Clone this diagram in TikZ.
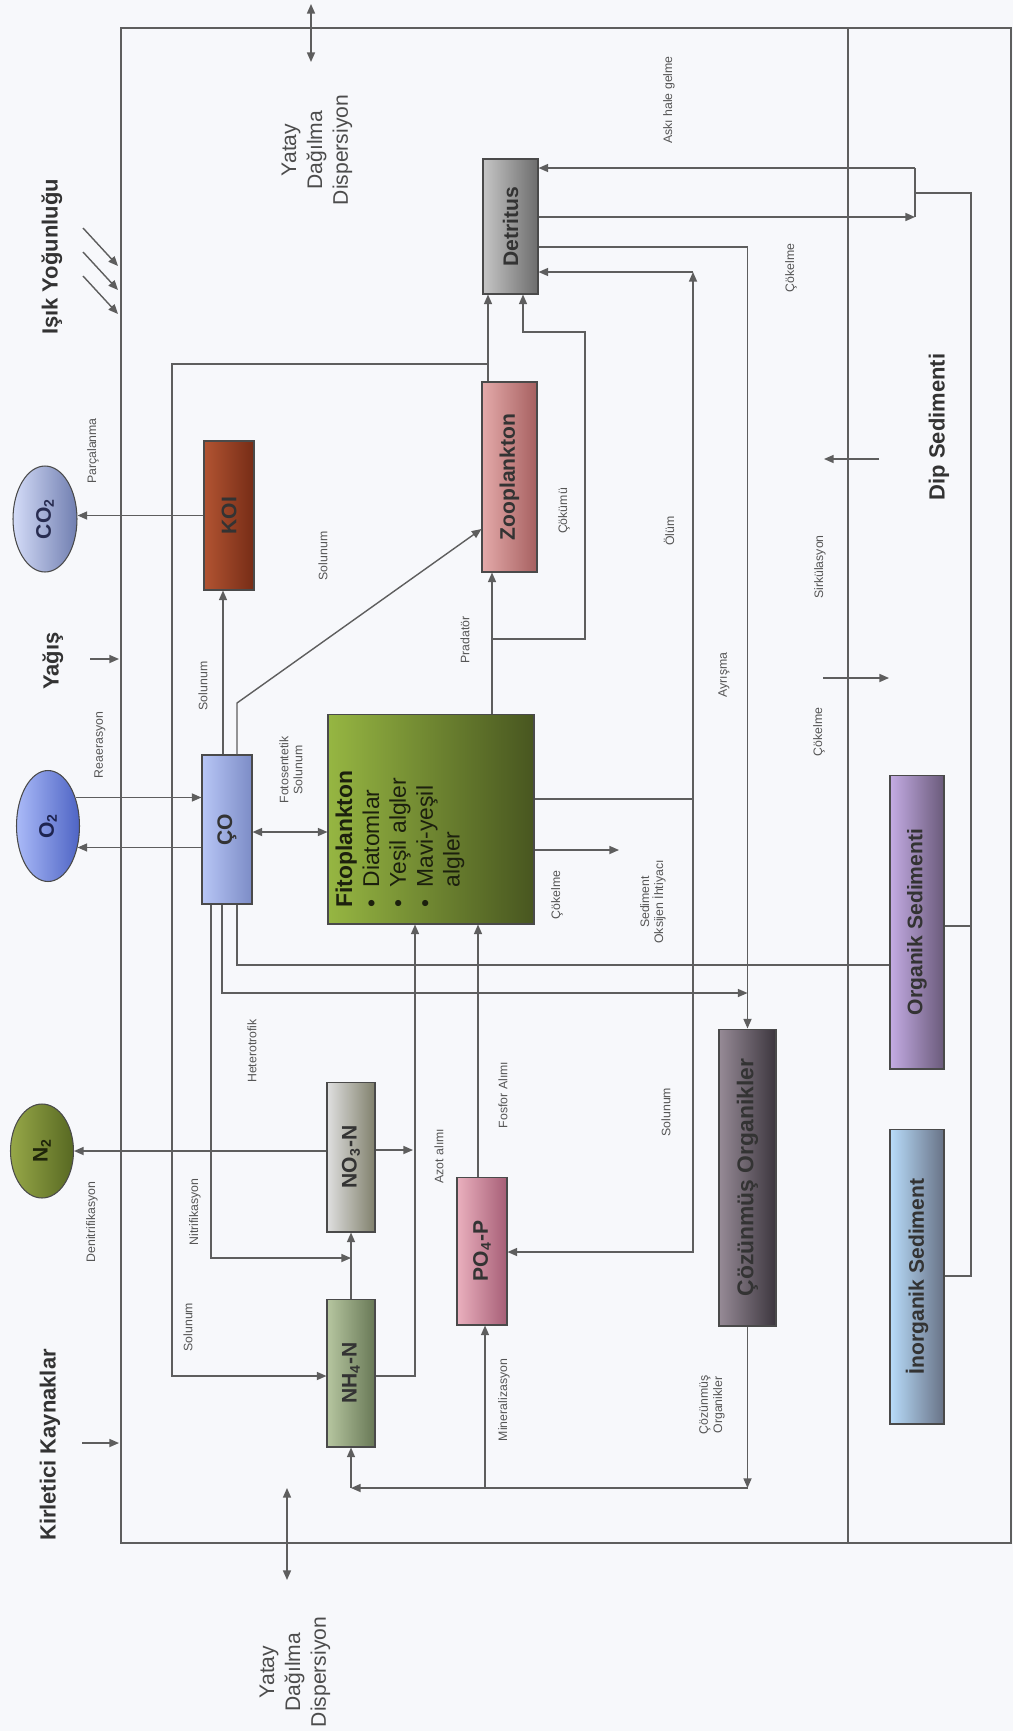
\documentclass[tikz,border=0pt]{standalone}
\usepackage{fontspec}
\setmainfont{Liberation Sans}
\usetikzlibrary{arrows.meta,shapes.geometric}
\definecolor{lncol}{HTML}{5E5E5E}
\definecolor{edgecol}{HTML}{4A4A4A}
\definecolor{labcol}{HTML}{555555}
\definecolor{paper}{HTML}{F7F8FB}
\begin{document}
\begin{tikzpicture}[x=0.02cm,y=-0.02cm,
  ln/.style={draw=lncol, line width=0.8pt},
  arr/.style={ln, -{Triangle[length=5.5pt,width=4.6pt]}},
  darr/.style={ln, {Triangle[length=5.5pt,width=4.6pt]}-{Triangle[length=5.5pt,width=4.6pt]}},
  lbl/.style={rotate=90, font=\fontsize{7}{8}\selectfont, text=labcol, align=center, inner sep=1pt},
  big/.style={rotate=90, font=\fontsize{12.5}{15}\selectfont\bfseries, text=black!80, inner sep=1pt},
  yat/.style={rotate=90, align=center, font=\fontsize{12}{14.7}\selectfont, text=black!70, inner sep=1pt},
  bx/.style={draw=edgecol, line width=0.6pt, inner sep=0pt, text=black!80, font=\fontsize{12}{14}\selectfont\bfseries},
]
\useasboundingbox (0,0) rectangle (1013,1731);
\fill[paper] (0,0) rectangle (1013,1731);

% frame
\draw[ln, line width=0.9pt] (121,28) rectangle (1011,1543);
\draw[ln, line width=0.9pt] (848,28) -- (848,1543);

% boxes
\node[bx, minimum width=1.1cm, minimum height=2.7cm, left color=gray!45, right color=gray!85!black] (DET) at (510.5,226.5) {\rotatebox{90}{Detritus}};
\node[bx, minimum width=1.0cm, minimum height=2.98cm, left color={rgb,255:red,178;green,84;blue,50}, right color={rgb,255:red,118;green,44;blue,22}] (KOI) at (229,515.5) {\rotatebox{90}{KOI}};
\node[bx, minimum width=1.1cm, minimum height=3.8cm, left color={rgb,255:red,228;green,170;blue,170}, right color={rgb,255:red,166;green,96;blue,96}] (ZOO) at (509.5,477) {\rotatebox{90}{Zooplankton}};
\node[bx, minimum width=1.0cm, minimum height=2.98cm, left color={rgb,255:red,184;green,198;blue,246}, right color={rgb,255:red,124;green,140;blue,198}] (CO) at (227,829.5) {\rotatebox{90}{ÇO}};
\node[bx, minimum width=4.12cm, minimum height=4.2cm, left color={rgb,255:red,150;green,182;blue,66}, right color={rgb,255:red,72;green,86;blue,32}] (FITO) at (431,819) {};
\node[anchor=south west, inner sep=0pt, text={rgb,255:red,28;green,32;blue,14}] (FT) at (333,908)
  {\rotatebox{90}{\fontsize{13}{15.3}\selectfont\begin{tabular}{@{}l@{\hspace{7pt}}l@{}}
  \multicolumn{2}{@{}l}{\textbf{Fitoplankton}}\\
  \textbullet & Diatomlar\\
  \textbullet & Yeşil algler\\
  \textbullet & Mavi-yeşil\\
   & algler
  \end{tabular}}};
\node[bx, minimum width=0.96cm, minimum height=3.0cm, left color=gray!25, right color={rgb,255:red,128;green,128;blue,108}] (NO3) at (351,1157) {\rotatebox{90}{NO\textsubscript{3}-N}};
\node[bx, minimum width=0.96cm, minimum height=2.96cm, left color={rgb,255:red,182;green,198;blue,160}, right color={rgb,255:red,104;green,120;blue,86}] (NH4) at (351,1373) {\rotatebox{90}{NH\textsubscript{4}-N}};
\node[bx, minimum width=1.0cm, minimum height=2.96cm, left color={rgb,255:red,234;green,176;blue,190}, right color={rgb,255:red,166;green,94;blue,118}] (PO4) at (482,1251) {\rotatebox{90}{PO\textsubscript{4}-P}};
\node[bx, minimum width=1.14cm, minimum height=5.94cm, left color={rgb,255:red,150;green,138;blue,150}, right color={rgb,255:red,60;green,54;blue,62}, font=\fontsize{13}{15}\selectfont\bfseries] (COZ) at (747.5,1177.5) {\rotatebox{90}{Çözünmüş Organikler}};
\node[bx, minimum width=1.08cm, minimum height=5.88cm, left color={rgb,255:red,196;green,172;blue,228}, right color={rgb,255:red,106;green,90;blue,122}] (ORG) at (917,922) {\rotatebox{90}{Organik Sedimenti}};
\node[bx, minimum width=1.08cm, minimum height=5.9cm, left color={rgb,255:red,184;green,220;blue,250}, right color={rgb,255:red,104;green,114;blue,134}] (INO) at (917,1276.5) {\rotatebox{90}{İnorganik Sediment}};

% ellipses
\node[bx, ellipse, minimum width=1.28cm, minimum height=2.12cm, left color={rgb,255:red,212;green,220;blue,248}, right color={rgb,255:red,112;green,126;blue,176}, text={rgb,255:red,40;green,44;blue,80}] (CO2) at (45,519) {\rotatebox{90}{CO\textsubscript{2}}};
\node[bx, ellipse, minimum width=1.26cm, minimum height=2.22cm, left color={rgb,255:red,170;green,186;blue,248}, right color={rgb,255:red,78;green,100;blue,196}, text={rgb,255:red,30;green,36;blue,80}] (O2) at (48,826) {\rotatebox{90}{O\textsubscript{2}}};
\node[bx, ellipse, minimum width=1.26cm, minimum height=1.88cm, left color={rgb,255:red,150;green,168;blue,72}, right color={rgb,255:red,88;green,104;blue,34}, text={rgb,255:red,30;green,36;blue,10}] (N2) at (42,1151) {\rotatebox{90}{N\textsubscript{2}}};

% outside arrows
\coordinate (L1) at (83,228); \coordinate (L2) at (83,252); \coordinate (L3) at (83,276);
\draw[arr] (L1) -- (118,266);
\draw[arr] (L2) -- (118,290);
\draw[arr] (L3) -- (118,314);
\coordinate (YG) at (90,659);
\draw[arr] (YG) -- (119,659);
\coordinate (KK) at (82,1443);
\draw[arr] (KK) -- (119,1443);
\draw[darr] (311,4) -- (311,62);
\draw[darr] (287,1488) -- (287,1580);

% KOI -> CO2, CO -> KOI, CO -> ZOO
\draw[arr] (KOI.west) -- (KOI.west -| CO2.east);
\draw[arr] (CO.north -| 223,0) -- (KOI.south -| 223,0);
\draw[arr] (CO.north -| 237,0) -- (237,703) -- (ZOO.west |- 0,529);
% O2 <-> CO
\draw[arr] (O2.46) -- (O2.46 -| CO.west);
\draw[arr] (O2.-36 -| CO.west) -- (O2.-36);
% CO <-> FITO
\draw[darr] (CO.east |- 0,832) -- (FITO.west |- 0,832);
% FITO -> ZOO, branch -> DET
\draw[arr] (FITO.north -| 492,0) -- (ZOO.south -| 492,0);
\draw[arr] (492,639) -- (585,639) -- (585,332) -- (523,332) -- (DET.south -| 523,0);
% ZOO -> DET, branch -> NH4
\draw[arr] (ZOO.north -| 488,0) -- (DET.south -| 488,0);
\draw[arr] (488,364) -- (172,364) -- (172,1376) -- (NH4.west |- 0,1376);
% DET -> COZ
\draw[arr] (DET.east |- 0,247) -- (COZ.north |- 0,247) -- (COZ.north);
% FITO -> DET (olum), -> PO4
\draw[ln] (FITO.east |- 0,799) -- (693,799);
\draw[arr] (693,799) -- (693,272);
\draw[arr] (693,272) -- (DET.east |- 0,272);
\draw[arr] (693,799) -- (693,1252) -- (PO4.east |- 0,1252);
% FITO cokelme
\draw[arr] (FITO.east |- 0,850) -- (619,850);
% CO bottom lines
\draw[ln] (CO.south -| 237,0) -- (237,965) -- (ORG.west |- 0,965);
\draw[arr] (CO.south -| 222,0) -- (222,993) -- (COZ.north |- 0,993);
\draw[arr] (CO.south -| 211,0) -- (211,1258) -- (NH4.north |- 0,1258);
% N cycle
\draw[arr] (NH4.north) -- (NO3.south);
\draw[arr] (N2.east -| NO3.west) -- (N2.east);
\draw[arr] (NO3.east |- 0,1150) -- (413,1150);
\draw[arr] (NH4.east |- 0,1376) -- (415,1376) -- (FITO.south -| 415,0);
\draw[arr] (PO4.north -| 478,0) -- (FITO.south -| 478,0);
% COZ mineralization
\draw[arr] (COZ.south) -- (COZ.south |- 0,1488);
\draw[arr] (COZ.south |- 0,1488) -- (NH4.south |- 0,1488);
\draw[arr] (NH4.south |- 0,1488) -- (NH4.south);
\draw[arr] (485,1488) -- (PO4.south -| 485,0);
% sediment lines
\draw[ln] (ORG.east |- 0,926) -- (971,926);
\draw[ln] (INO.east |- 0,1276) -- (971,1276) -- (971,193) -- (915,193);
\draw[ln] (915,168) -- (915,217);
\draw[arr] (915,168) -- (DET.east |- 0,168);
\draw[arr] (DET.east |- 0,217) -- (915,217);
\draw[arr] (823,678) -- (889,678);
\draw[arr] (879,459) -- (824,459);

% big labels
\node[big] (tIsik) at (52,257) {Işık Yoğunluğu};
\node[big] (tYag) at (53,661) {Yağış};
\node[big] (tKir) at (50,1445) {Kirletici Kaynaklar};
\node[big] (tDip) at (939,427) {Dip Sedimenti};
\node[yat] (tYat1) at (317,150) {Yatay\\Dağılma\\Dispersiyon};
\node[yat] (tYat2) at (295,1672) {Yatay\\Dağılma\\Dispersiyon};

% small labels
\node[lbl] (s1) at (93,451) {Parçalanma};
\node[lbl] (s2) at (100,745) {Reaerasyon};
\node[lbl] (s3) at (203,686) {Solunum};
\node[lbl] (s4) at (323,556) {Solunum};
\node[lbl] (s5) at (291,770) {Fotosentetik\\Solunum};
\node[lbl] (s6) at (465,640) {Pradatör};
\node[lbl] (s7) at (564,511) {Çökümü};
\node[lbl] (s8) at (669,531) {Ölüm};
\node[lbl] (s9) at (669,100) {Askı hale gelme};
\node[lbl] (s10) at (791,268) {Çökelme};
\node[lbl] (s11) at (820,567) {Sirkülasyon};
\node[lbl] (s12) at (819,732) {Çökelme};
\node[lbl] (s13) at (724,675) {Ayrışma};
\node[lbl] (s14) at (557,895) {Çökelme};
\node[lbl] (s15) at (653,902) {Sediment\\Oksijen İhtiyacı};
\node[lbl] (s16) at (252,1051) {Heterotrofik};
\node[lbl] (s17) at (195,1212) {Nitrifikasyon};
\node[lbl] (s18) at (188,1327) {Solunum};
\node[lbl] (s19) at (92,1222) {Denitrifikasyon};
\node[lbl] (s20) at (439,1156) {Azot alımı};
\node[lbl] (s21) at (503,1095) {Fosfor Alımı};
\node[lbl] (s22) at (666,1112) {Solunum};
\node[lbl] (s23) at (504,1400) {Mineralizasyon};
\node[lbl] (s24) at (712,1405) {Çözünmüş\\Organikler};
\end{tikzpicture}
\end{document}
